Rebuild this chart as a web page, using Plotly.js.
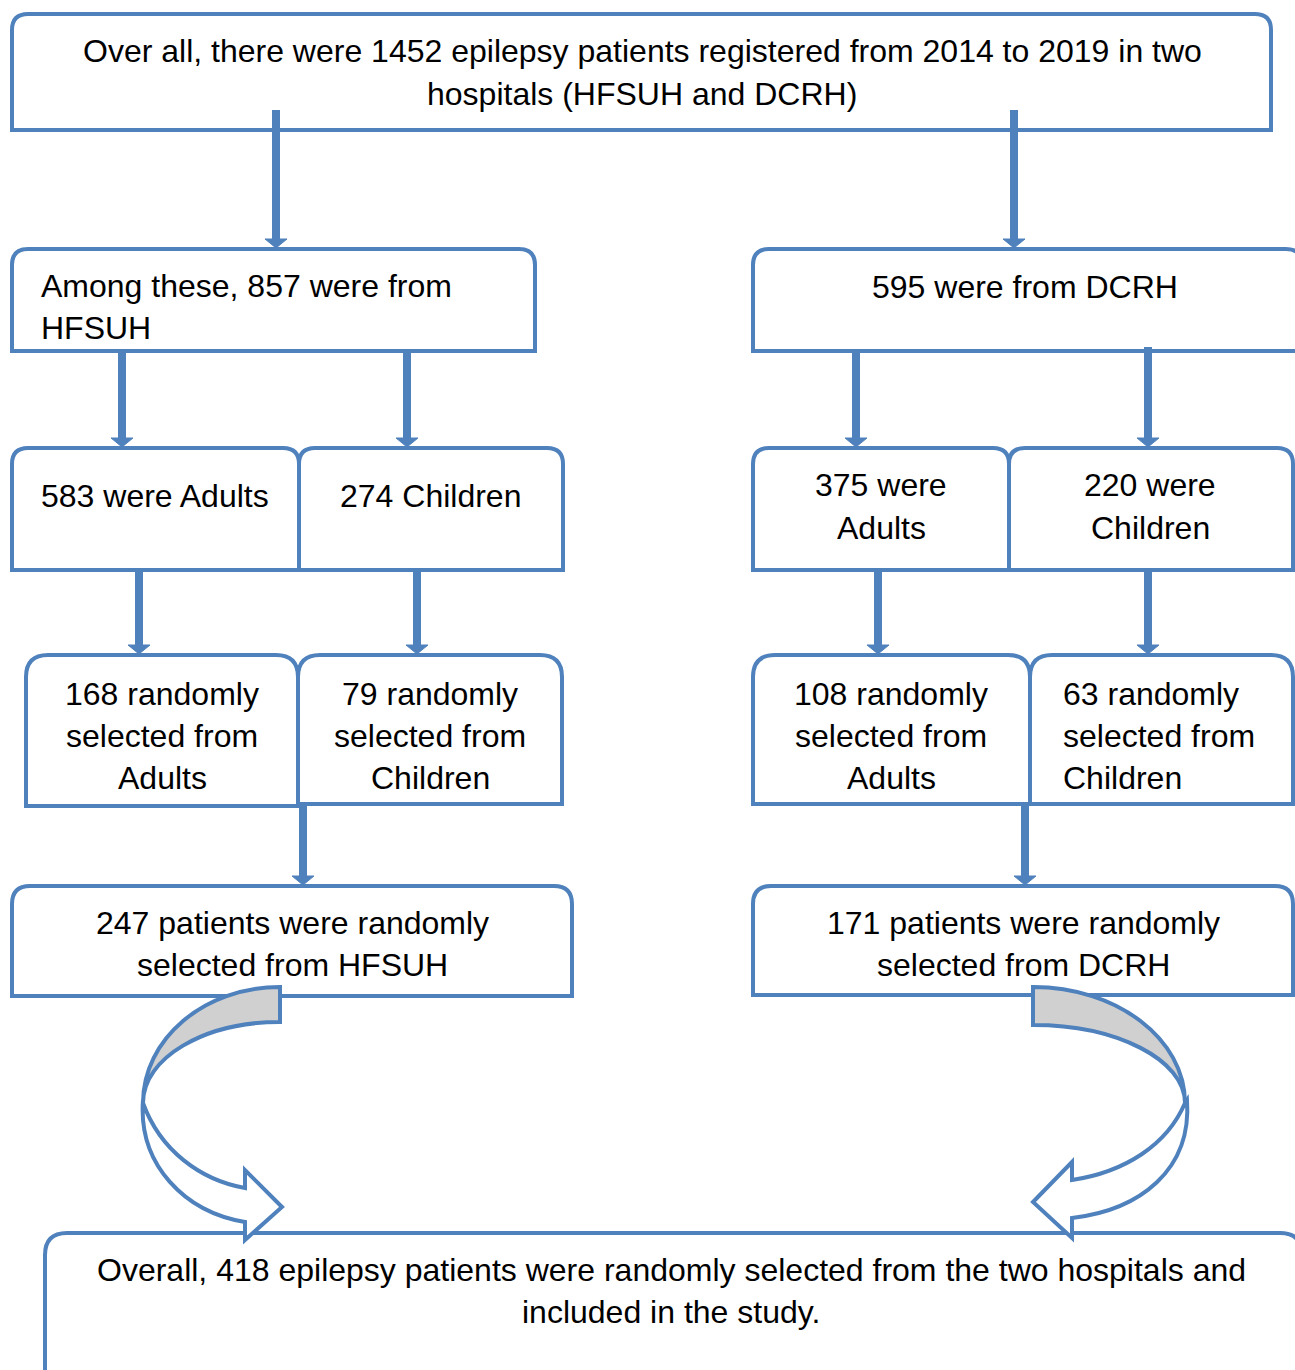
<!DOCTYPE html>
<html>
<head>
<meta charset="utf-8">
<script src="https://cdn.plot.ly/plotly-3.0.1.min.js"></script>
<style>html,body{margin:0;padding:0;background:#fff;}#chart{width:1295px;height:1370px;}</style>
</head>
<body>
<div id="chart"></div>
<script>
// ---- data ----
const hospitals = ['HFSUH', 'DCRH'];
const years = [2014, 2019];
const totalRegistered = 1452;
const registered = [857, 595];
const adults = [583, 375];
const children = [274, 220];
const sampledAdults = [168, 108];
const sampledChildren = [79, 63];
const sampledTotal = [247, 171];
const totalIncluded = 418;

// ---- texts built from data ----
const texts = {
  top: [`Over all, there were ${totalRegistered} epilepsy patients registered from ${years[0]} to ${years[1]} in two`,
        `hospitals (${hospitals[0]} and ${hospitals[1]})`],
  h0: [`Among these, ${registered[0]} were from`, hospitals[0]],
  h1: [`${registered[1]} were from ${hospitals[1]}`],
  a0: [`${adults[0]} were Adults`],
  c0: [`${children[0]} Children`],
  a1: [`${adults[1]} were`, 'Adults'],
  c1: [`${children[1]} were`, 'Children'],
  sa0: [`${sampledAdults[0]} randomly`, 'selected from', 'Adults'],
  sc0: [`${sampledChildren[0]} randomly`, 'selected from', 'Children'],
  sa1: [`${sampledAdults[1]} randomly`, 'selected from', 'Adults'],
  sc1: [`${sampledChildren[1]} randomly`, 'selected from', 'Children'],
  st0: [`${sampledTotal[0]} patients were randomly`, `selected from ${hospitals[0]}`],
  st1: [`${sampledTotal[1]} patients were randomly`, `selected from ${hospitals[1]}`],
  all: [`Overall, ${totalIncluded} epilepsy patients were randomly selected from the two hospitals and`, 'included in the study.']
};

// ---- layout geometry (pixels) ----
const nodes = {
  top: {l:12, t:14, r:1271, b:130, rad:16, anchor:'center', tx:642, ys:[51, 94]},
  h0:  {l:12, t:249, r:535, b:351, rad:16, anchor:'left', tx:39, ys:[286, 328]},
  h1:  {l:753, t:249, r:1302, b:351, rad:16, anchor:'center', tx:1025, ys:[287]},
  a0:  {l:12, t:448, r:299, b:570, rad:16, anchor:'center', tx:155, ys:[496]},
  c0:  {l:299, t:448, r:563, b:570, rad:16, anchor:'center', tx:430, ys:[496]},
  a1:  {l:753, t:448, r:1009, b:570, rad:16, anchor:'center', tx:881, ys:[485, 528]},
  c1:  {l:1009, t:448, r:1293, b:570, rad:16, anchor:'center', tx:1150, ys:[485, 528]},
  sa0: {l:26, t:655, r:298, b:806, rad:22, anchor:'center', tx:162, ys:[694, 736, 778]},
  sc0: {l:298, t:655, r:562, b:804, rad:22, anchor:'center', tx:430, ys:[694, 736, 778]},
  sa1: {l:753, t:655, r:1030, b:804, rad:22, anchor:'center', tx:891, ys:[694, 736, 778]},
  sc1: {l:1030, t:655, r:1293, b:804, rad:22, anchor:'left', tx:1061, ys:[694, 736, 778]},
  st0: {l:12, t:886, r:572, b:996, rad:18, anchor:'center', tx:292, ys:[923, 965]},
  st1: {l:753, t:886, r:1293, b:995, rad:18, anchor:'center', tx:1023, ys:[923, 965]},
  all: {l:45, t:1233, r:1302, b:1400, rad:22, anchor:'center', tx:671, ys:[1270, 1312]}
};
const connectors = [
  {x:276, y0:110, y1:248}, {x:1014, y0:110, y1:248},
  {x:122, y0:351, y1:447}, {x:407, y0:351, y1:447},
  {x:856, y0:351, y1:447}, {x:1148, y0:347, y1:447},
  {x:139, y0:570, y1:654}, {x:417, y0:570, y1:654},
  {x:878, y0:570, y1:654}, {x:1148, y0:570, y1:654},
  {x:303, y0:806, y1:885}, {x:1025, y0:804, y1:885}
];

const BLUE = '#4F81BD';
const shapes = [];
function boxPath(n){
  const {l,t,r,b,rad} = n;
  return `M ${l} ${b} L ${l} ${t+rad} Q ${l} ${t} ${l+rad} ${t} L ${r-rad} ${t} Q ${r} ${t} ${r} ${t+rad} L ${r} ${b} Z`;
}
Object.keys(nodes).forEach(k => {
  shapes.push({type:'path', xref:'x', yref:'y', path: boxPath(nodes[k]),
    line:{color:BLUE, width:4}, fillcolor:'rgba(255,255,255,0)', layer:'above'});
});
connectors.forEach(c => {
  const hh = 9, hw = 11;
  shapes.push({type:'line', xref:'x', yref:'y', x0:c.x, x1:c.x, y0:c.y0, y1:c.y1-hh+1,
    line:{color:BLUE, width:8}, layer:'above'});
  shapes.push({type:'path', xref:'x', yref:'y',
    path:`M ${c.x-hw} ${c.y1-hh} L ${c.x+hw} ${c.y1-hh} L ${c.x} ${c.y1} Z`,
    line:{color:BLUE, width:1}, fillcolor:BLUE, layer:'above'});
});
// curved arrows
const curved = [
  {band:'M 280 987 C 204 987, 143 1039, 143 1103 C 143 1058, 204 1022, 280 1022 Z',
   body:'M 143 1103 C 160 1150, 200 1180, 245 1188 L 245 1170 L 282 1207 L 245 1240 L 245 1222 C 185 1212, 138 1165, 143 1100 Z'},
  {band:'M 1033 987 C 1117 987, 1185 1039, 1185 1103 C 1185 1060, 1117 1025, 1033 1025 Z',
   body:'M 1185 1103 C 1167 1145, 1125 1172, 1072 1180 L 1072 1162 L 1033 1202 L 1072 1238 L 1072 1218 C 1140 1210, 1192 1170, 1187 1100 Z'}
];
curved.forEach(c => {
  shapes.push({type:'path', xref:'x', yref:'y', path:c.band, line:{color:BLUE, width:4}, fillcolor:'#D0D0D0', layer:'above'});
  shapes.push({type:'path', xref:'x', yref:'y', path:c.body, line:{color:BLUE, width:4}, fillcolor:'#FFFFFF', layer:'above'});
});

const annotations = [];
Object.keys(nodes).forEach(k => {
  const n = nodes[k];
  texts[k].forEach((line, i) => {
    annotations.push({x:n.tx, y:n.ys[i], xref:'x', yref:'y', text:line, showarrow:false,
      xanchor:n.anchor, yanchor:'middle',
      font:{family:'Liberation Sans, Arial, sans-serif', size:32, color:'#000'}});
  });
});

const layout = {
  width:1295, height:1370, margin:{l:0, r:0, t:0, b:0},
  paper_bgcolor:'#fff', plot_bgcolor:'#fff', showlegend:false,
  xaxis:{range:[0,1295], visible:false, fixedrange:true},
  yaxis:{range:[1370,0], visible:false, fixedrange:true},
  shapes, annotations
};
Plotly.newPlot('chart', [{type:'scatter', x:[], y:[], hoverinfo:'skip'}], layout, {staticPlot:true, displayModeBar:false});
</script>
</body>
</html>
